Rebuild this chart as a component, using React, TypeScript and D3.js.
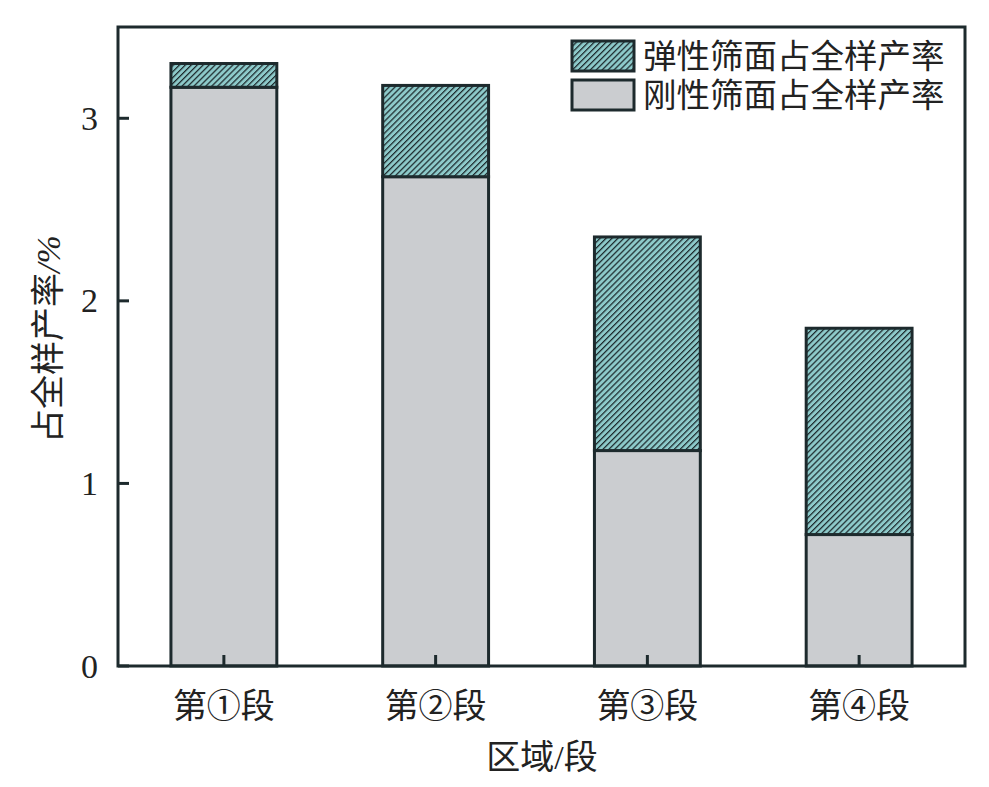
import React from "react";
import * as d3 from "d3";

const categories = ["第①段", "第②段", "第③段", "第④段"];
const rigidValues = [3.17, 2.68, 1.18, 0.72];
const elasticValues = [0.13, 0.5, 1.17, 1.13];
const yTicks = [0, 1, 2, 3];
const seriesNames = ["弹性筛面占全样产率", "刚性筛面占全样产率"];
const xTitle = "区域/段";
const yTitleMain = "占全样产率";
const yTitleUnit = "/%";

const W = 989;
const H = 787;
const M = { left: 118, right: 965, top: 27, bottom: 666 };
const FONT = "'Liberation Serif', 'Times New Roman', 'Noto Sans CJK SC', serif";
const GRAY = "#cbcdd0";
const TEAL = "#8dcaca";
const DARK = "#1d2a2d";

export default function App() {
  const x = d3
    .scaleBand<string>()
    .domain(categories)
    .range([M.left, M.right])
    .paddingInner(0.5)
    .paddingOuter(0.25);
  const y = d3.scaleLinear().domain([0, 3.5]).range([M.bottom, M.top]);

  const stacked = categories.map((c, i) => ({
    c,
    rigid: rigidValues[i],
    total: rigidValues[i] + elasticValues[i],
  }));

  return (
    <svg
      width={W}
      height={H}
      style={{ position: "absolute", left: 0, top: 0, background: "#fff" }}
      fontFamily={FONT}
    >
      <defs>
        <pattern
          id="hatch"
          patternUnits="userSpaceOnUse"
          width={4.2}
          height={4.2}
          patternTransform="rotate(45)"
        >
          <rect width={4.2} height={4.2} fill={TEAL} />
          <line x1={0} y1={0} x2={0} y2={4.2} stroke={DARK} strokeWidth={2.5} />
        </pattern>
      </defs>

      {stacked.map((d) => (
        <g key={d.c}>
          <rect
            x={x(d.c)}
            y={y(d.rigid)}
            width={x.bandwidth()}
            height={y(0) - y(d.rigid)}
            fill={GRAY}
            stroke={DARK}
            strokeWidth={3}
          />
          <rect
            x={x(d.c)}
            y={y(d.total)}
            width={x.bandwidth()}
            height={y(d.rigid) - y(d.total)}
            fill="url(#hatch)"
            stroke={DARK}
            strokeWidth={3}
          />
        </g>
      ))}

      {/* frame */}
      <rect
        x={M.left}
        y={M.top}
        width={M.right - M.left}
        height={M.bottom - M.top}
        fill="none"
        stroke={DARK}
        strokeWidth={3}
      />

      {/* y ticks */}
      {yTicks.map((t) => (
        <g key={t}>
          <line x1={M.left} x2={M.left + 11} y1={y(t)} y2={y(t)} stroke={DARK} strokeWidth={3} />
          <text
            x={M.left - 20}
            y={y(t)}
            textAnchor="end"
            dominantBaseline="central"
            fontSize={34}
            fill="#222"
          >
            {t}
          </text>
        </g>
      ))}

      {/* x ticks */}
      {categories.map((c) => {
        const cx = (x(c) as number) + x.bandwidth() / 2;
        return (
          <g key={c}>
            <line x1={cx} x2={cx} y1={M.bottom} y2={M.bottom - 11} stroke={DARK} strokeWidth={3} />
            <text x={cx} y={706} textAnchor="middle" dominantBaseline="central" fontSize={34} fill="#222">
              {c}
            </text>
          </g>
        );
      })}

      <text x={542} y={757} textAnchor="middle" dominantBaseline="central" fontSize={34} fill="#222">
        {xTitle}
      </text>
      <text
        transform={`translate(48, 339) rotate(-90)`}
        textAnchor="middle"
        dominantBaseline="central"
        fontSize={34}
        fill="#222"
      >
        {yTitleMain}
        <tspan fontStyle="italic">{yTitleUnit}</tspan>
      </text>

      {/* legend */}
      <g>
        <rect x={572} y={41} width={62} height={30} fill="url(#hatch)" stroke={DARK} strokeWidth={3} />
        <text x={643} y={56} dominantBaseline="central" fontSize={33.5} fill="#222">
          {seriesNames[0]}
        </text>
        <rect x={572} y={80} width={62} height={30} fill={GRAY} stroke={DARK} strokeWidth={3} />
        <text x={643} y={95} dominantBaseline="central" fontSize={33.5} fill="#222">
          {seriesNames[1]}
        </text>
      </g>
    </svg>
  );
}
